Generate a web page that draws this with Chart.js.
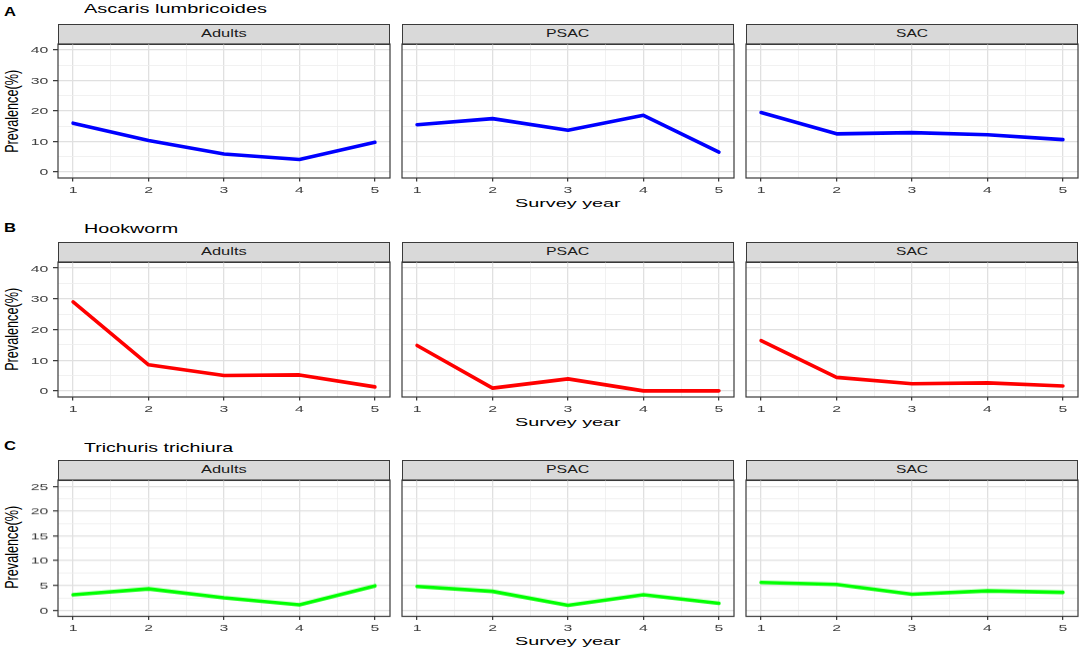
<!DOCTYPE html>
<html>
<head>
<meta charset="utf-8">
<script src="https://cdn.jsdelivr.net/npm/chart.js@4.4.1/dist/chart.umd.min.js"></script>
<style>
html, body { margin: 0; padding: 0; background: #fff; }
#fig { position: relative; width: 1084px; height: 653px; overflow: hidden; font-family: "Liberation Sans", Arial, sans-serif; }
.strip { position: absolute; box-sizing: border-box; background: #d9d9d9; border: 1.2px solid #3a3a3a; }
.txt { position: absolute; white-space: nowrap; transform-origin: 0 50%; }
.box { position: absolute; }
</style>
</head>
<body>
<div id="fig"></div>
<script>
// survey years and facets
const years = [1, 2, 3, 4, 5];
const groups = ['Adults', 'PSAC', 'SAC'];
const letters = ['A', 'B', 'C'];
const species = ['Ascaris lumbricoides', 'Hookworm', 'Trichuris trichiura'];

// prevalence (%)
const ascarisAdults = [16.0, 10.3, 5.9, 4.1, 9.7];
const ascarisPSAC   = [15.5, 17.5, 13.7, 18.6, 6.5];
const ascarisSAC    = [19.5, 12.5, 12.9, 12.2, 10.6];

const hookAdults = [29.0, 8.5, 5.0, 5.2, 1.3];
const hookPSAC   = [14.8, 0.9, 3.9, 0.0, 0.0];
const hookSAC    = [16.4, 4.4, 2.3, 2.6, 1.6];

const trichAdults = [3.1, 4.3, 2.5, 1.1, 4.9];
const trichPSAC   = [4.8, 3.8, 1.0, 3.1, 1.4];
const trichSAC    = [5.6, 5.2, 3.2, 3.9, 3.6];

// tick labels
const xTickLabels = ['1', '2', '3', '4', '5'];
const yTicksAB = [0, 10, 20, 30, 40];
const yTicksC = [0, 5, 10, 15, 20, 25];

const rows = [
  { series: [ascarisAdults, ascarisPSAC, ascarisSAC], color: '#0000ff', yTicks: yTicksAB },
  { series: [hookAdults, hookPSAC, hookSAC], color: '#ff0000', yTicks: yTicksAB },
  { series: [trichAdults, trichPSAC, trichSAC], color: '#00ff00', yTicks: yTicksC }
];

// layout (pixels)
const colLeft = [58, 402, 746];
const colW = 332;
const stripTop = [24, 242, 460];
const stripH = 20;
const panelH = [134, 135, 135.5];
const titleY = [8.7, 228, 447];
const letterY = [11.5, 228, 446];
const titleW = [183, 94.3, 149];
const stripW = [45.7, 43.3, 32];
const SX = 1.65;

const fig = document.getElementById('fig');

function addText(str, o) {
  const el = document.createElement('span');
  el.className = 'txt';
  el.textContent = str;
  el.style.fontSize = o.size + 'px';
  el.style.lineHeight = o.size + 'px';
  if (o.bold) el.style.fontWeight = 'bold';
  el.style.color = o.color || '#000';
  fig.appendChild(el);
  const nat = el.getBoundingClientRect().width;
  const k = o.w / nat;
  if (o.rot) {
    el.style.left = (o.cx - nat / 2) + 'px';
    el.style.top = (o.cy - o.size / 2) + 'px';
    el.style.transformOrigin = '50% 50%';
    el.style.transform = 'rotate(-90deg) scale(' + k + ',' + o.ty + ')';
  } else {
    const left = o.cx != null ? o.cx - o.w / 2 : o.x;
    el.style.left = left + 'px';
    el.style.top = (o.cy - o.size / 2) + 'px';
    el.style.transform = 'scaleX(' + k + ')';
  }
}

function stretchText(ctx, s, x, y, align) {
  ctx.save();
  ctx.translate(x, y);
  ctx.scale(SX, 1);
  ctx.textAlign = align;
  ctx.textBaseline = 'alphabetic';
  ctx.fillText(s, 0, 0);
  ctx.restore();
}

// frame + stretched tick labels, like the ggplot panel
const panelFrame = {
  id: 'panelFrame',
  afterDraw(chart, args, opts) {
    const ctx = chart.ctx;
    const a = chart.chartArea;
    const xs = chart.scales.x, ys = chart.scales.y;
    ctx.save();
    ctx.strokeStyle = '#3a3a3a';
    ctx.lineWidth = 1.2;
    ctx.strokeRect(a.left, a.top, a.right - a.left, a.bottom - a.top);
    ctx.fillStyle = '#404040';
    ctx.font = '9.6px "Liberation Sans", Arial, sans-serif';
    xTickLabels.forEach((lab, i) => {
      stretchText(ctx, lab, xs.getPixelForValue(years[i]), a.bottom + 14.6, 'center');
    });
    if (opts.yLabels) {
      opts.yLabels.forEach(v => {
        stretchText(ctx, String(v), a.left - 9.7, ys.getPixelForValue(v) + 3.4, 'right');
      });
    }
    ctx.restore();
  }
};

function isMajor(v, major) {
  return major.some(m => Math.abs(m - v) < 1e-6);
}

const xGrid = [];
for (let i = 0; i < years.length; i++) {
  xGrid.push(years[i]);
  if (i < years.length - 1) xGrid.push((years[i] + years[i + 1]) / 2);
}

rows.forEach((row, r) => {
  const yt = row.yTicks;
  const step = yt[1] - yt[0];
  const pad = (yt[yt.length - 1] - yt[0]) * 0.05;
  const yGrid = [];
  yt.forEach((v, i) => { yGrid.push(v); if (i < yt.length - 1) yGrid.push(v + step / 2); });
  const panelTop = stripTop[r] + stripH;
  const panelBottom = panelTop + panelH[r];

  addText(letters[r], { x: 3.5, cy: letterY[r], w: 12, size: 13.5, bold: true });
  addText(species[r], { x: 84, cy: titleY[r], w: titleW[r], size: 13 });
  addText('Prevalence(%)', { rot: true, cx: 13, cy: (panelTop + panelBottom) / 2, w: 83, ty: 1.45, size: 12.7 });
  addText('Survey year', { cx: colLeft[1] + colW / 2, cy: panelBottom + 25, w: 105.7, size: 11.6 });

  groups.forEach((g, c) => {
    const s = document.createElement('div');
    s.className = 'strip';
    s.style.left = colLeft[c] + 'px';
    s.style.top = stripTop[r] + 'px';
    s.style.width = colW + 'px';
    s.style.height = (stripH + 0.6) + 'px';
    fig.appendChild(s);
    addText(g, { cx: colLeft[c] + colW / 2, cy: stripTop[r] + 9.6, w: stripW[c], size: 11, color: '#1a1a1a' });

    const padL = c === 0 ? 42 : 2;
    const box = document.createElement('div');
    box.className = 'box';
    box.style.left = (colLeft[c] - padL) + 'px';
    box.style.top = (panelTop - 2) + 'px';
    box.style.width = (padL + colW + 2) + 'px';
    box.style.height = (2 + panelH[r] + 22) + 'px';
    const cv = document.createElement('canvas');
    box.appendChild(cv);
    fig.appendChild(box);

    new Chart(cv, {
      type: 'line',
      data: {
        datasets: [{
          data: years.map((x, i) => ({ x: x, y: row.series[c][i] })),
          borderColor: row.color,
          borderWidth: 3.6,
          pointRadius: 0,
          tension: 0,
          fill: false,
          borderJoinStyle: 'round',
          borderCapStyle: 'round'
        }]
      },
      options: {
        responsive: true,
        maintainAspectRatio: false,
        animation: false,
        events: [],
        layout: { padding: { top: 2, right: 2, left: c === 0 ? 0 : 2, bottom: 0 } },
        plugins: {
          legend: { display: false },
          tooltip: { enabled: false },
          panelFrame: { yLabels: c === 0 ? yt : null }
        },
        scales: {
          x: {
            type: 'linear',
            min: years[0] - 0.05 * (years[4] - years[0]),
            max: years[4] + 0.05 * (years[4] - years[0]),
            afterBuildTicks: sc => { sc.ticks = xGrid.map(v => ({ value: v })); },
            afterFit: sc => { sc.height = 22; },
            ticks: { display: false },
            border: { display: false },
            grid: {
              color: ctx => isMajor(ctx.tick.value, years) ? '#e0e0e0' : '#eeeeee',
              lineWidth: ctx => isMajor(ctx.tick.value, years) ? 1.3 : 0.8,
              drawTicks: true,
              tickLength: 3.5,
              tickWidth: 1.2,
              tickColor: ctx => isMajor(ctx.tick.value, years) ? '#333333' : 'rgba(0,0,0,0)'
            }
          },
          y: {
            type: 'linear',
            min: yt[0] - pad,
            max: yt[yt.length - 1] + pad,
            afterBuildTicks: sc => { sc.ticks = yGrid.map(v => ({ value: v })); },
            afterFit: sc => { sc.width = c === 0 ? 42 : 0; },
            ticks: { display: false },
            border: { display: false },
            grid: {
              color: ctx => isMajor(ctx.tick.value, yt) ? '#e0e0e0' : '#eeeeee',
              lineWidth: ctx => isMajor(ctx.tick.value, yt) ? 1.3 : 0.8,
              drawTicks: c === 0,
              tickLength: 5,
              tickWidth: 1.2,
              tickColor: ctx => isMajor(ctx.tick.value, yt) ? '#333333' : 'rgba(0,0,0,0)'
            }
          }
        }
      },
      plugins: [panelFrame]
    });
  });
});
</script>
</body>
</html>
